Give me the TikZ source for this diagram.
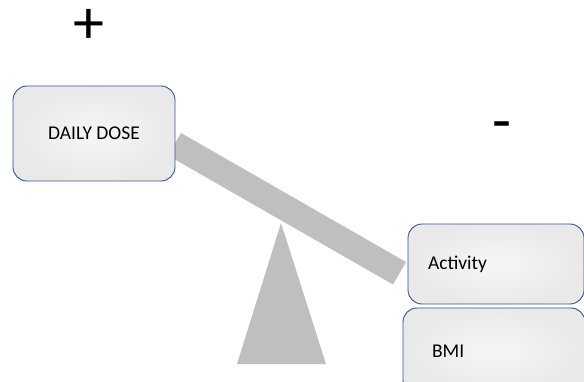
\documentclass[tikz,border=0pt]{standalone}
\usepackage{fontspec}
\setmainfont{Carlito}
\definecolor{boxline}{HTML}{2F5597}
\definecolor{beamgray}{HTML}{BFBFBF}
\begin{document}
\begin{tikzpicture}[x=1pt,y=-1pt,
  factor/.style={draw=boxline, line width=0.9pt, rounded corners=14pt,
    inner color=gray!7, outer color=gray!17, align=left,
    font=\fontsize{19.5}{22}\selectfont},
  sign/.style={inner sep=0pt, font=\fontsize{62}{62}\selectfont}]
\useasboundingbox (0,0) rectangle (584,382);

% seesaw: beam and pivot
\fill[beamgray] (181,133) -- (406,262) -- (393,284.5) -- (168,155.5) -- cycle;
\fill[beamgray] (281,223) -- (326,364) -- (237,364) -- cycle;

% the factors
\node[factor, minimum width=162pt, minimum height=95pt, align=center] (dose) at (94,133.5) {DAILY DOSE};
\node[factor, minimum height=80pt, text width=136pt, inner xsep=20pt] (activity) at (496,264) {Activity};
\node[factor, minimum height=86pt, text width=124pt, inner xsep=29pt] (bmi) at (494,351) {BMI};

\node[sign] (plus) at (88.5,26) {+};
\node[sign] (minus) at (501.5,131.5) {-};
\end{tikzpicture}
\end{document}
